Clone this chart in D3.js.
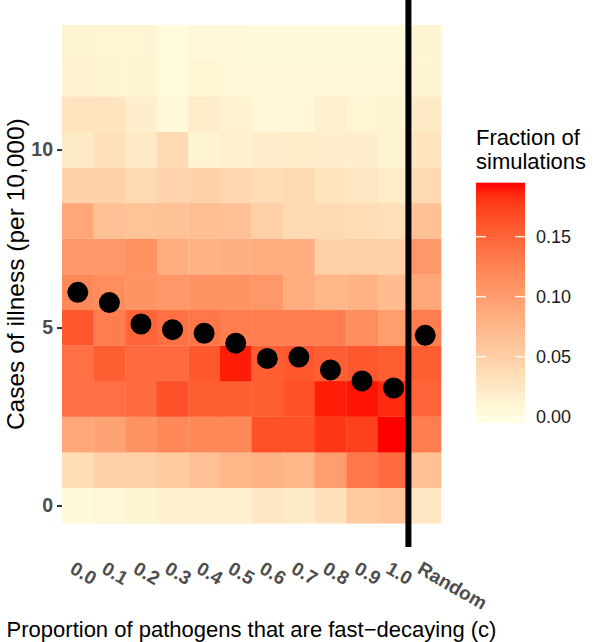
<!DOCTYPE html>
<html>
<head>
<meta charset="utf-8">
<script src="https://cdn.jsdelivr.net/npm/d3@7"></script>
<style>
  html, body { margin: 0; padding: 0; background: #fff; }
  svg { display: block; font-family: "Liberation Sans", Arial, Helvetica, sans-serif; }
</style>
</head>
<body>
<svg id="chart" width="601" height="642"></svg>
<script>
// ---- Data ----
const categories = ["0.0","0.1","0.2","0.3","0.4","0.5","0.6","0.7","0.8","0.9","1.0","Random"];
const caseLevels = [0,1,2,3,4,5,6,7,8,9,10,11,12,13];
// fraction of simulations; rows = cases of illness (0..13), columns = categories
const fractions = [
  [0.005,0.008,0.012,0.015,0.015,0.015,0.025,0.022,0.030,0.055,0.060,0.025],
  [0.035,0.050,0.050,0.055,0.065,0.075,0.080,0.075,0.100,0.135,0.145,0.065],
  [0.090,0.095,0.110,0.120,0.120,0.120,0.165,0.165,0.180,0.175,0.195,0.130],
  [0.140,0.140,0.145,0.165,0.155,0.155,0.155,0.165,0.190,0.192,0.185,0.150],
  [0.140,0.155,0.145,0.145,0.160,0.190,0.155,0.160,0.155,0.160,0.155,0.155],
  [0.160,0.130,0.150,0.140,0.135,0.130,0.130,0.130,0.130,0.115,0.100,0.130],
  [0.120,0.115,0.110,0.105,0.110,0.110,0.105,0.085,0.075,0.080,0.070,0.090],
  [0.105,0.105,0.112,0.085,0.080,0.082,0.085,0.085,0.050,0.050,0.048,0.105],
  [0.090,0.065,0.062,0.064,0.068,0.065,0.050,0.040,0.040,0.037,0.033,0.065],
  [0.048,0.048,0.040,0.045,0.048,0.043,0.037,0.040,0.028,0.026,0.020,0.040],
  [0.022,0.030,0.022,0.040,0.012,0.015,0.018,0.020,0.018,0.018,0.012,0.028],
  [0.028,0.028,0.018,0.006,0.020,0.014,0.008,0.008,0.015,0.010,0.012,0.022],
  [0.014,0.012,0.012,0.004,0.011,0.008,0.007,0.007,0.007,0.007,0.007,0.012],
  [0.012,0.010,0.010,0.004,0.006,0.006,0.005,0.005,0.005,0.005,0.005,0.012]
];
const meanCases = [5.99,5.70,5.10,4.94,4.84,4.56,4.13,4.17,3.81,3.50,3.30,4.78];
const yTicks = [0,5,10];
const legendTicks = [0.00,0.05,0.10,0.15];
const fillMax = 0.195;

// ---- Layout ----
const svg = d3.select("#chart");
const panel = {left: 62, right: 441, top: 25, bottom: 523.3};

const x = d3.scaleBand().domain(categories).range([panel.left, panel.right]).padding(0);
const y = d3.scaleLinear().domain([-0.5, 13.5]).range([panel.bottom, panel.top]);
const color = d3.scaleLinear().domain([0, fillMax]).range(["#FFFFE0", "#FF0000"])
  .interpolate(d3.interpolateLab).clamp(true);

// ---- Heatmap ----
const cells = [];
caseLevels.forEach((lvl, i) => categories.forEach((c, j) => cells.push({c, lvl, v: fractions[i][j]})));
svg.append("g").selectAll("rect").data(cells).join("rect")
  .attr("x", d => x(d.c))
  .attr("y", d => y(d.lvl + 0.5))
  .attr("width", x.bandwidth() + 0.3)
  .attr("height", y(d3.min(caseLevels) - 0.5) - y(d3.min(caseLevels) + 0.5) + 0.3)
  .attr("fill", d => color(d.v));

// ---- Mean points ----
svg.append("g").selectAll("circle").data(categories).join("circle")
  .attr("cx", d => x(d) + x.bandwidth() / 2)
  .attr("cy", (d, i) => y(meanCases[i]))
  .attr("r", 10.5)
  .attr("fill", "#000");

// ---- Vertical separator ----
const sepX = x("Random") - 1;
svg.append("line")
  .attr("x1", sepX).attr("x2", sepX)
  .attr("y1", 0).attr("y2", 547)
  .attr("stroke", "#000").attr("stroke-width", 6);

// ---- Y axis ----
const yAxis = svg.append("g")
  .attr("transform", `translate(${panel.left},0)`)
  .call(d3.axisLeft(y).tickValues(yTicks).tickSize(5).tickPadding(4).tickFormat(d3.format("d")));
yAxis.select(".domain").remove();
yAxis.selectAll(".tick line").attr("stroke", "#333").attr("stroke-width", 2);
yAxis.selectAll(".tick text")
  .attr("fill", "#4D4D4D").attr("font-size", 19.5).attr("font-weight", "bold")
  .attr("font-family", "Liberation Sans, Arial, sans-serif");

// ---- X axis labels ----
const xAxis = svg.append("g")
  .attr("transform", `translate(0,${panel.bottom})`)
  .call(d3.axisBottom(x).tickSize(0).tickPadding(0));
xAxis.select(".domain").remove();
xAxis.selectAll(".tick text")
  .attr("fill", "#4D4D4D").attr("font-size", 19).attr("font-weight", "bold")
  .attr("font-family", "Liberation Sans, Arial, sans-serif")
  .attr("text-anchor", "start")
  .attr("dy", null)
  .attr("y", 0)
  .attr("transform", `translate(-9,49) rotate(30)`);

// ---- Axis titles ----
svg.append("text")
  .attr("x", (panel.left + panel.right) / 2).attr("y", 636.5)
  .attr("text-anchor", "middle").attr("font-size", 22).attr("fill", "#000")
  .text("Proportion of pathogens that are fast\u2212decaying (c)");

svg.append("text")
  .attr("transform", `translate(24,${(panel.top + panel.bottom) / 2}) rotate(-90)`)
  .attr("text-anchor", "middle").attr("font-size", 24.5).attr("fill", "#000")
  .text("Cases of illness (per 10,000)");

// ---- Legend ----
const lg = {x: 476, w: 49, top: 182.7, bottom: 422.7};
const ly = d3.scaleLinear().domain([0, 0.15]).range([416.7, 236.7]);
const defs = svg.append("defs");
const grad = defs.append("linearGradient").attr("id", "lgGrad")
  .attr("x1", 0).attr("x2", 0).attr("y1", 1).attr("y2", 0);
d3.range(0, 1.0001, 0.05).forEach(t => {
  const yy = lg.bottom - t * (lg.bottom - lg.top);
  grad.append("stop").attr("offset", t).attr("stop-color", color(ly.invert(yy)));
});
svg.append("rect")
  .attr("x", lg.x).attr("y", lg.top).attr("width", lg.w).attr("height", lg.bottom - lg.top)
  .attr("fill", "url(#lgGrad)");
const lt = svg.append("g");
legendTicks.forEach(v => {
  lt.append("line").attr("x1", lg.x).attr("x2", lg.x + 10).attr("y1", ly(v)).attr("y2", ly(v))
    .attr("stroke", "#fff").attr("stroke-width", 1.2);
  lt.append("line").attr("x1", lg.x + lg.w - 10).attr("x2", lg.x + lg.w).attr("y1", ly(v)).attr("y2", ly(v))
    .attr("stroke", "#fff").attr("stroke-width", 1.2);
  lt.append("text").attr("x", lg.x + lg.w + 11).attr("y", ly(v)).attr("dy", "0.35em")
    .attr("font-size", 18).attr("fill", "#1A1A1A").text(d3.format(".2f")(v));
});
const title = svg.append("text").attr("x", lg.x).attr("font-size", 22).attr("fill", "#000");
title.append("tspan").attr("x", lg.x).attr("y", 145).text("Fraction of");
title.append("tspan").attr("x", lg.x).attr("y", 169).text("simulations");
</script>
</body>
</html>
